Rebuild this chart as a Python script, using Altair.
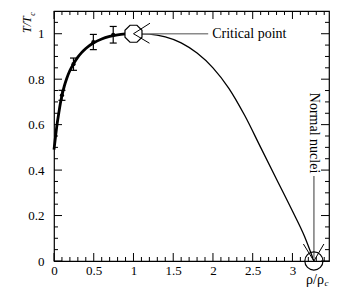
import altair as alt
import pandas as pd

# ---------------- data ----------------
# fitted curve (thick part, low density side)
rho_thick = [0.0, 0.02, 0.04, 0.06, 0.08, 0.10, 0.13, 0.16, 0.20, 0.25, 0.30,
             0.35, 0.40, 0.50, 0.60, 0.70, 0.80, 0.90]
t_thick = [0.49, 0.55, 0.605, 0.65, 0.693, 0.728, 0.77, 0.803, 0.838, 0.87, 0.897,
           0.918, 0.935, 0.96, 0.977, 0.988, 0.995, 0.999]
# continuation (thin part) to normal nuclear density
rho_thin = [0.90, 1.0, 1.2, 1.4, 1.6, 1.8, 2.0, 2.2, 2.4, 2.6, 2.8, 3.0, 3.15, 3.27]
t_thin = [0.999, 1.0, 0.998, 0.986, 0.96, 0.915, 0.85, 0.76, 0.64, 0.50, 0.36, 0.22, 0.11, 0.0]

# measured points with error bars
pt_rho = [0.10, 0.245, 0.495, 0.745]
pt_t = [0.729, 0.866, 0.963, 0.995]
pt_lo = [0.707, 0.839, 0.930, 0.959]
pt_hi = [0.751, 0.893, 0.997, 1.032]

# annotations
crit_rho, crit_t = [1.0], [1.0]
crit_line_rho = [1.10, 1.94]
crit_label_rho = [1.99]
crit_label = ["Critical point"]
nuc_rho, nuc_t = [3.27], [0.0]
nuc_line_t = [0.01, 0.374]
nuc_label_t = [0.74]
nuc_label = ["Normal nuclei"]

# axis ticks
x_major = [0, 0.5, 1, 1.5, 2, 2.5, 3]
x_minor = [0.1, 0.2, 0.3, 0.4, 0.6, 0.7, 0.8, 0.9, 1.1, 1.2, 1.3, 1.4, 1.6, 1.7, 1.8, 1.9,
           2.1, 2.2, 2.3, 2.4, 2.6, 2.7, 2.8, 2.9, 3.1, 3.2, 3.3, 3.4]
y_major = [0, 0.2, 0.4, 0.6, 0.8, 1.0]
y_minor = [0.05, 0.1, 0.15, 0.25, 0.3, 0.35, 0.45, 0.5, 0.55, 0.65, 0.7, 0.75,
           0.85, 0.9, 0.95, 1.05]

# ---------------- chart ----------------
W, H = 275, 250
FONT = "Liberation Serif"
xs = alt.Scale(domain=[0, 3.46], nice=False, zero=False)
ys = alt.Scale(domain=[0, 1.1], nice=False, zero=False)


def X(f, axis=None):
    if axis is None:
        return alt.X(f, type="quantitative", scale=xs, title=None)
    return alt.X(f, type="quantitative", scale=xs, title=None, axis=axis)


def Y(f, axis=None):
    if axis is None:
        return alt.Y(f, type="quantitative", scale=ys, title=None)
    return alt.Y(f, type="quantitative", scale=ys, title=None, axis=axis)


xaxis = alt.Axis(values=x_major, format="~g", labelPadding=3)
yaxis = alt.Axis(values=y_major, format="~g", labelPadding=10)

thick_df = pd.DataFrame({"r": rho_thick, "t": t_thick})
thin_df = pd.DataFrame({"r": rho_thin, "t": t_thin})
pts_df = pd.DataFrame({"r": pt_rho, "t": pt_t, "lo": pt_lo, "hi": pt_hi})

thin = alt.Chart(thin_df).mark_line(color="black", strokeWidth=1.3, interpolate="monotone").encode(
    x=X("r", xaxis), y=Y("t", yaxis))
thick = alt.Chart(thick_df).mark_line(color="black", strokeWidth=2.8, interpolate="monotone").encode(
    x=X("r"), y=Y("t"))
errs = alt.Chart(pts_df).mark_rule(color="black", strokeWidth=1.2).encode(
    x=X("r"), y=Y("lo"), y2="hi")
cap_hi = alt.Chart(pts_df).mark_rule(color="black", strokeWidth=1.2, xOffset=-3.5, x2Offset=3.5).encode(
    x=X("r"), x2="r", y=Y("hi"))
cap_lo = alt.Chart(pts_df).mark_rule(color="black", strokeWidth=1.2, xOffset=-3.5, x2Offset=3.5).encode(
    x=X("r"), x2="r", y=Y("lo"))
pts = alt.Chart(pts_df).mark_circle(color="black", size=18, opacity=1).encode(x=X("r"), y=Y("t"))

# inward tick marks on all four sides
layers = []
for vals, L in [(x_major, 8), (x_minor, 4)]:
    d = pd.DataFrame({"v": vals})
    layers.append(alt.Chart(d).mark_rule(color="black", strokeWidth=1).encode(
        x=X("v"), y=alt.value(H), y2=alt.value(H - L)))
    layers.append(alt.Chart(d).mark_rule(color="black", strokeWidth=1).encode(
        x=X("v"), y=alt.value(0), y2=alt.value(L)))
for vals, L in [(y_major, 8), (y_minor, 4)]:
    d = pd.DataFrame({"v": vals})
    layers.append(alt.Chart(d).mark_rule(color="black", strokeWidth=1).encode(
        y=Y("v"), x=alt.value(0), x2=alt.value(L)))
    layers.append(alt.Chart(d).mark_rule(color="black", strokeWidth=1).encode(
        y=Y("v"), x=alt.value(W), x2=alt.value(W - L)))

# critical point annotation
crit_df = pd.DataFrame({"r": crit_rho, "t": crit_t})
crit_line = alt.Chart(pd.DataFrame({"r": [crit_line_rho[0]], "r2": [crit_line_rho[1]], "t": crit_t})).mark_rule(
    color="#8a8a8a", strokeWidth=1.5).encode(x=X("r"), x2="r2", y=Y("t"))
octagon = "M -0.41,-1 L 0.41,-1 L 1,-0.41 L 1,0.41 L 0.41,1 L -0.41,1 L -1,0.41 L -1,-0.41 Z"
crit_oct = alt.Chart(crit_df).mark_point(shape=octagon, size=289, filled=True, fill="white",
                                         stroke="black", strokeWidth=1.2, opacity=1).encode(
    x=X("r"), y=Y("t"))
crit_a1 = alt.Chart(crit_df).mark_rule(color="black", strokeWidth=1, x2Offset=16.5, y2Offset=-10.5).encode(
    x=X("r"), x2="r", y=Y("t"), y2="t")
crit_a2 = alt.Chart(crit_df).mark_rule(color="black", strokeWidth=1, x2Offset=16, y2Offset=9.5).encode(
    x=X("r"), x2="r", y=Y("t"), y2="t")
crit_txt = alt.Chart(pd.DataFrame({"r": crit_label_rho, "t": crit_t, "s": crit_label})).mark_text(
    font=FONT, fontSize=14, align="left", baseline="middle", color="black").encode(
    x=X("r"), y=Y("t"), text="s")

# normal nuclei annotation
nuc_df = pd.DataFrame({"r": nuc_rho, "t": nuc_t})
nuc_line = alt.Chart(pd.DataFrame({"r": nuc_rho, "t": [nuc_line_t[0]], "t2": [nuc_line_t[1]]})).mark_rule(
    color="#8a8a8a", strokeWidth=1.7).encode(x=X("r"), y=Y("t"), y2="t2")
nuc_circ = alt.Chart(nuc_df).mark_point(shape="circle", size=330, filled=False, color="black",
                                        strokeWidth=1.2, opacity=1).encode(x=X("r"), y=Y("t"))
nuc_a1 = alt.Chart(nuc_df).mark_rule(color="black", strokeWidth=1, x2Offset=-10.5, y2Offset=-17).encode(
    x=X("r"), x2="r", y=Y("t"), y2="t")
nuc_a2 = alt.Chart(nuc_df).mark_rule(color="black", strokeWidth=1, x2Offset=10, y2Offset=-17).encode(
    x=X("r"), x2="r", y=Y("t"), y2="t")
nuc_txt = alt.Chart(pd.DataFrame({"r": nuc_rho, "t": nuc_label_t, "s": nuc_label})).mark_text(
    font=FONT, fontSize=14, align="left", baseline="middle", angle=90, color="black").encode(
    x=X("r"), y=Y("t"), text="s")

# axis titles (with subscript c)
ytitle = alt.Chart(pd.DataFrame({"s": ["T/T"]})).mark_text(
    font=FONT, fontSize=12, fontStyle="italic", align="left", baseline="middle", angle=270,
    color="black").encode(x=alt.value(-27), y=alt.value(22), text="s")
ytitle_c = alt.Chart(pd.DataFrame({"s": ["c"]})).mark_text(
    font=FONT, fontSize=8, fontStyle="italic", align="center", baseline="middle", angle=270,
    color="black").encode(x=alt.value(-21), y=alt.value(3), text="s")
xtitle = alt.Chart(pd.DataFrame({"s": ["ρ/ρ"]})).mark_text(
    font=FONT, fontSize=14, align="left", baseline="alphabetic", color="black").encode(
    x=alt.value(252), y=alt.value(272.5), text="s")
xtitle_c = alt.Chart(pd.DataFrame({"s": ["c"]})).mark_text(
    font=FONT, fontSize=9, fontStyle="italic", align="left", baseline="alphabetic", color="black").encode(
    x=alt.value(270.5), y=alt.value(275), text="s")

chart = alt.layer(
    thin, crit_line, thick, errs, cap_hi, cap_lo, pts, *layers,
    crit_oct, crit_a1, crit_a2, crit_txt,
    nuc_line, nuc_circ, nuc_a1, nuc_a2, nuc_txt,
    ytitle, ytitle_c, xtitle, xtitle_c,
).properties(
    width=W, height=H,
    autosize=alt.AutoSizeParams(type="none"),
    padding={"left": 46, "top": 3, "right": 8, "bottom": 26},
    background="white",
).configure_view(
    stroke="black", strokeWidth=1.2
).configure_axis(
    ticks=False, domain=False, grid=False, labelFont=FONT, labelFontSize=13,
    labelColor="black", labelFlush=False, title=None
)

chart.save("out.html", embed_options={"renderer": "svg", "actions": False})
